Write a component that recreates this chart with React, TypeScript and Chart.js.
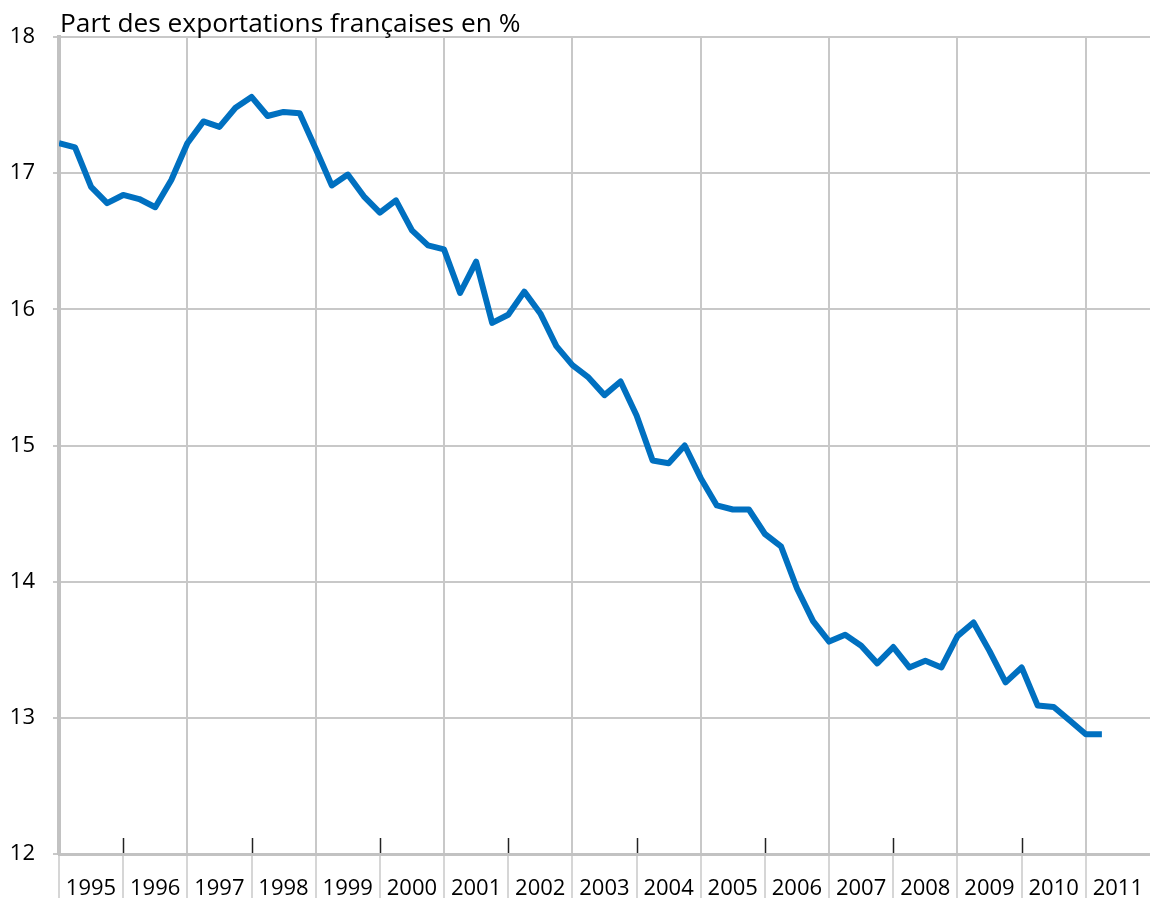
import React, { useEffect, useRef } from 'react';
import { Chart, registerables } from 'chart.js';

Chart.register(...registerables);

// Quarterly categories (year-quarter)
const quarters: string[] = [
  '1995-T1', '1995-T2', '1995-T3', '1995-T4',
  '1996-T1', '1996-T2', '1996-T3', '1996-T4',
  '1997-T1', '1997-T2', '1997-T3', '1997-T4',
  '1998-T1', '1998-T2', '1998-T3', '1998-T4',
  '1999-T1', '1999-T2', '1999-T3', '1999-T4',
  '2000-T1', '2000-T2', '2000-T3', '2000-T4',
  '2001-T1', '2001-T2', '2001-T3', '2001-T4',
  '2002-T1', '2002-T2', '2002-T3', '2002-T4',
  '2003-T1', '2003-T2', '2003-T3', '2003-T4',
  '2004-T1', '2004-T2', '2004-T3', '2004-T4',
  '2005-T1', '2005-T2', '2005-T3', '2005-T4',
  '2006-T1', '2006-T2', '2006-T3', '2006-T4',
  '2007-T1', '2007-T2', '2007-T3', '2007-T4',
  '2008-T1', '2008-T2', '2008-T3', '2008-T4',
  '2009-T1', '2009-T2', '2009-T3', '2009-T4',
  '2010-T1', '2010-T2', '2010-T3', '2010-T4',
  '2011-T1', '2011-T2',
];

// Part des exportations françaises en %
const shareValues: number[] = [
  17.22, 17.19, 16.90, 16.78, 16.84, 16.81, 16.75, 16.95,
  17.22, 17.38, 17.34, 17.48, 17.56, 17.42, 17.45, 17.44,
  17.18, 16.91, 16.99, 16.83, 16.71, 16.80, 16.58, 16.47,
  16.44, 16.12, 16.35, 15.90, 15.96, 16.13, 15.97, 15.73,
  15.59, 15.50, 15.37, 15.47, 15.22, 14.89, 14.87, 15.00,
  14.76, 14.56, 14.53, 14.53, 14.35, 14.26, 13.95, 13.71,
  13.56, 13.61, 13.53, 13.40, 13.52, 13.37, 13.42, 13.37,
  13.60, 13.70, 13.49, 13.26, 13.37, 13.09, 13.08, 12.98,
  12.88, 12.88,
];

const yearLabels: string[] = [
  '1995', '1996', '1997', '1998', '1999', '2000', '2001', '2002', '2003',
  '2004', '2005', '2006', '2007', '2008', '2009', '2010', '2011',
];

const subtitle = 'Part des exportations françaises en %';

const FONT = '"Open Sans"';
const GRID = '#c8c8c8';
const AXIS = '#c2c2c2';
const LINE = '#0070c0';

function quarterToX(q: string): number {
  const [y, t] = q.split('-T');
  return Number(y) + (Number(t) - 1) / 4;
}

export default function App() {
  const canvasRef = useRef<HTMLCanvasElement | null>(null);

  useEffect(() => {
    document.body.style.margin = '0';
    const canvas = canvasRef.current;
    if (!canvas) return;
    const firstYear = Number(yearLabels[0]);
    const lastYear = Number(yearLabels[yearLabels.length - 1]) + 1;

    const extras = {
      id: 'extras',
      afterDraw(chart: any) {
        const { ctx, chartArea, scales } = chart;
        const xs = scales.x;
        ctx.save();
        // short black ticks at even-year boundaries
        ctx.strokeStyle = '#222';
        ctx.lineWidth = 1.5;
        yearLabels.forEach((lab) => {
          const yr = Number(lab);
          if (yr > firstYear && (yr - firstYear) % 2 === 1) {
            const px = Math.round(xs.getPixelForValue(yr)) + 0.5;
            ctx.beginPath();
            ctx.moveTo(px, chartArea.bottom - 16);
            ctx.lineTo(px, chartArea.bottom - 1);
            ctx.stroke();
          }
        });
        // subtitle
        ctx.fillStyle = '#000';
        ctx.font = `26.3px ${FONT}`;
        ctx.textBaseline = 'alphabetic';
        ctx.textAlign = 'left';
        ctx.fillText(subtitle, chartArea.left + 1, 32);
        ctx.restore();
      },
    };

    const chart = new Chart(canvas, {
      type: 'line',
      data: {
        datasets: [
          {
            data: quarters.map((q, i) => ({ x: quarterToX(q), y: shareValues[i] })),
            borderColor: LINE,
            borderWidth: 6,
            pointRadius: 0,
            tension: 0,
            borderJoinStyle: 'round',
            fill: false,
          },
        ],
      },
      options: {
        responsive: false,
        animation: false,
        layout: { padding: { top: 37, left: 0, right: 0, bottom: 0 } },
        plugins: {
          legend: { display: false },
          tooltip: { enabled: false },
          title: { display: false },
        },
        scales: {
          x: {
            type: 'linear',
            position: 'bottom',
            min: firstYear,
            max: lastYear,
            afterFit: (s: any) => {
              s.height = 44;
            },
            ticks: {
              stepSize: 1,
              autoSkip: false,
              maxRotation: 0,
              minRotation: 0,
              labelOffset: 32,
              padding: -22,
              color: '#000',
              font: { family: FONT, size: 22 },
              callback: (v: any) => {
                const idx = Number(v) - firstYear;
                return idx >= 0 && idx < yearLabels.length ? yearLabels[idx] : '';
              },
            },
            grid: {
              color: (c: any) => {
                const v = c.tick ? c.tick.value : 0;
                if (v > firstYear && v < lastYear && (v - firstYear) % 2 === 0) return GRID;
                return 'rgba(0,0,0,0)';
              },
              lineWidth: 2,
              drawTicks: true,
              tickLength: 44,
              tickColor: (c: any) => {
                const v = c.tick ? c.tick.value : 0;
                return v < lastYear ? GRID : 'rgba(0,0,0,0)';
              },
              tickWidth: 1.5,
            },
            border: { display: true, color: AXIS, width: 3 },
          },
          y: {
            min: 12,
            max: 18,
            afterFit: (s: any) => {
              s.width = 59;
            },
            ticks: {
              stepSize: 1,
              padding: 18,
              color: '#000',
              font: { family: FONT, size: 22 },
            },
            grid: {
              color: GRID,
              lineWidth: 2,
              tickLength: 6,
            },
            border: { display: true, color: AXIS, width: 4 },
          },
        },
      },
      plugins: [extras],
    });

    return () => {
      chart.destroy();
    };
  }, []);

  return (
    <div style={{ position: 'absolute', left: 0, top: 0, width: 1150, height: 898, background: '#fff' }}>
      <canvas ref={canvasRef} width={1150} height={898} style={{ display: 'block' }} />
    </div>
  );
}
